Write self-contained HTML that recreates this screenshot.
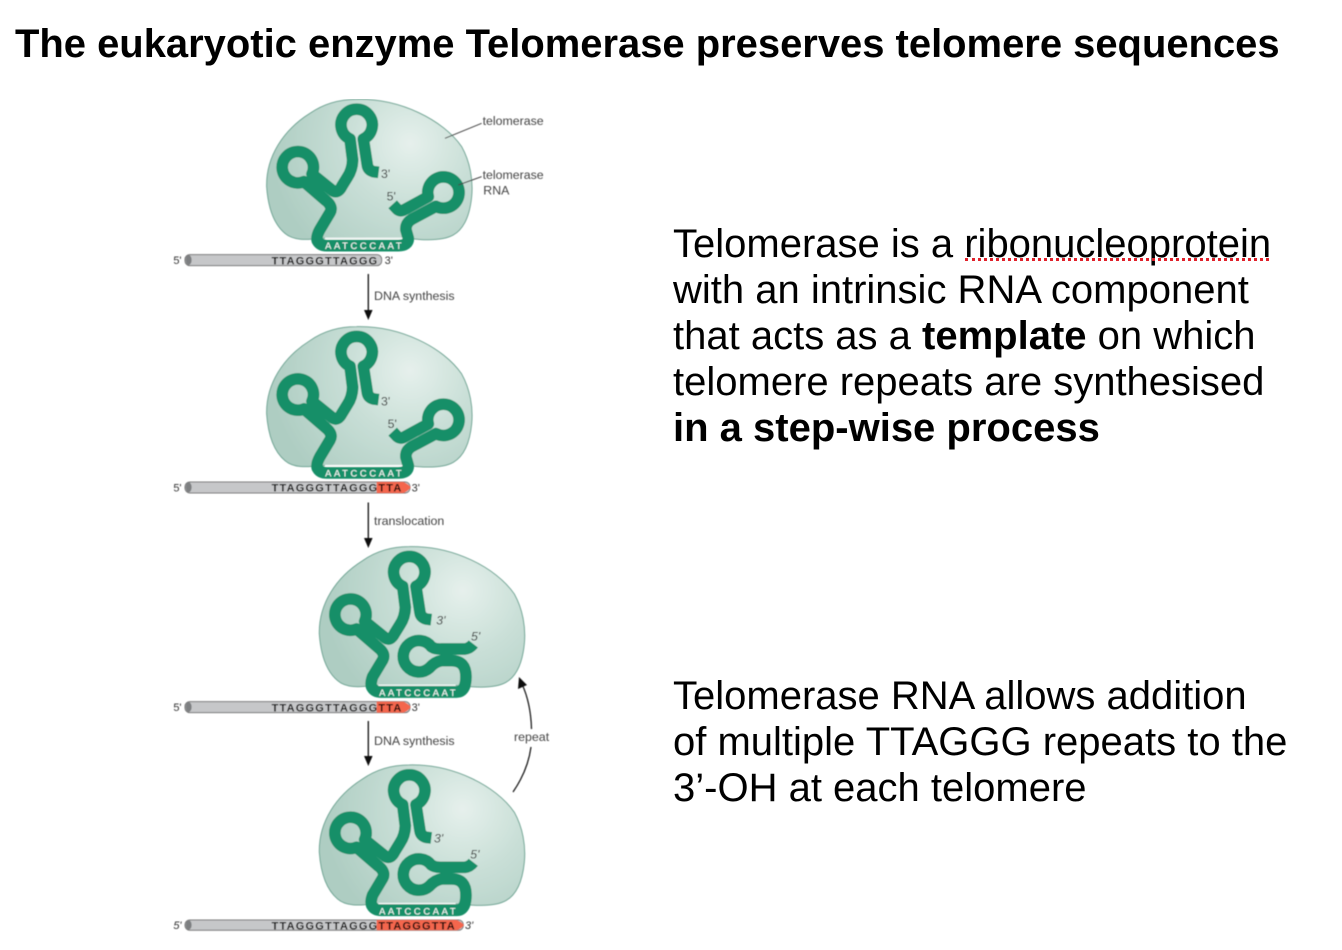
<!DOCTYPE html>
<html><head><meta charset="utf-8"><style>
html,body{margin:0;padding:0;background:#fff}
body{width:1342px;height:950px;position:relative;overflow:hidden;font-family:"Liberation Sans",Arial,sans-serif;color:#000}
.t{position:absolute;white-space:nowrap}
#title{left:15px;top:22px;font-size:39.95px;font-weight:bold;line-height:44px}
.b{font-size:40px;line-height:46px;left:673px}
.u{position:absolute;left:965px;top:258px;width:304px;height:0;border-top:3px dotted #e0202a}
svg{position:absolute;left:0;top:0}
</style></head><body>
<svg width="1342" height="950" viewBox="0 0 1342 950" font-family="Liberation Sans, Arial, sans-serif">
<defs>
<radialGradient id="g" gradientUnits="userSpaceOnUse" cx="750" cy="160" r="420">
<stop offset="0" stop-color="#e6f0ec"/><stop offset=".45" stop-color="#c9dfd7"/><stop offset="1" stop-color="#aecdc2"/></radialGradient>
<filter id="bl" x="0" y="0" width="100%" height="100%"><feGaussianBlur stdDeviation="0.45"/></filter>
<path id="blob" d="M590,28 C720,25 850,90 905,170 C930,215 940,270 935,320 C930,370 915,415 880,435 C850,452 800,452 745,445 L480,445 C440,450 400,452 375,430 C345,405 325,360 320,290 C318,200 370,120 450,70 C490,42 540,28 590,28Z" fill="url(#g)" stroke="#6fa594" stroke-width="3"/>
<path id="rna1" fill="none" stroke="#148f68" stroke-width="35" stroke-linejoin="round" d="M656,247 L640,245 Q624,240 622,225 L610,147 A47,47 0 1 0 570,147 L578,210 Q577,240 562,262 L546,288 Q534,312 518,302 L456,252 A47,47 0 1 0 432,275 L498,332 Q520,350 510,368 L480,418 Q468,440 472,452 Q480,467 500,467 L715,467 Q745,467 745,445 L738,420 Q736,400 755,388 L828,349 A47,47 0 1 0 805,320 L735,358 Q722,366 712,358 L698,343"/>
<path id="rna2" fill="none" stroke="#148f68" stroke-width="35" stroke-linejoin="round" d="M814,239 L798,237 Q782,232 780,217 L768,139 A47,47 0 1 0 728,139 L736,202 Q735,232 720,254 L704,280 Q692,304 676,294 L614,244 A47,47 0 1 0 590,267 L656,324 Q678,342 668,360 L638,410 Q630,432 636,442 Q644,456 664,456 L890,456 Q918,456 918,410 Q918,362 875,362 L845,362 Q825,365 808,384 A47,47 0 1 1 814,320 Q825,328 845,327 L915,327 Q930,325 940,312"/>
</defs>
<g filter="url(#bl)">

<!-- stage 1 -->
<g transform="translate(160,90) scale(.3333)">
<use href="#blob"/>
<use href="#rna1"/>
<rect x="495" y="443" width="232" height="3.5" fill="#fff"/>
<text x="614" y="477" font-size="28" fill="#fff" text-anchor="middle" letter-spacing="8">AATCCCAAT</text>
<rect x="75" y="494" width="590" height="33" rx="14" fill="#c6c7c9" stroke="#777" stroke-width="3"/>
<ellipse cx="86" cy="510" rx="9" ry="15" fill="#7d7f81"/>
<text x="335" y="523" font-size="33" font-weight="bold" fill="#000" letter-spacing="3.6">TTAGGGTTAGGG</text>
<text x="40" y="522" font-size="33" fill="#333">5'</text>
<text x="674" y="522" font-size="33" fill="#333">3'</text>
<text x="663" y="264" font-size="37" fill="#333">3'</text>
<text x="680" y="332" font-size="37" fill="#333">5'</text>
<path d="M855,145 L965,100 M895,285 L965,260" stroke="#444" stroke-width="3" fill="none"/>
<text x="968" y="105" font-size="37" fill="#444">telomerase</text>
<text x="968" y="267" font-size="37" fill="#444">telomerase</text>
<text x="970" y="314" font-size="37" fill="#444">RNA</text>
</g>

<!-- stage 2 -->
<g transform="translate(160,317.3) scale(.3333)">
<use href="#blob"/>
<use href="#rna1"/>
<rect x="495" y="443" width="232" height="3.5" fill="#fff"/>
<text x="614" y="477" font-size="28" fill="#fff" text-anchor="middle" letter-spacing="8">AATCCCAAT</text>
<rect x="75" y="494" width="675" height="33" rx="14" fill="#c6c7c9" stroke="#777" stroke-width="3"/>
<path d="M650,494 H730 Q745,500 752,510 Q745,522 730,527 H650Z" fill="#f4664e"/>
<ellipse cx="86" cy="510" rx="9" ry="15" fill="#7d7f81"/>
<text x="335" y="523" font-size="33" font-weight="bold" fill="#000" letter-spacing="3.6">TTAGGGTTAGGGTTA</text>
<text x="40" y="522" font-size="33" fill="#333">5'</text>
<text x="755" y="522" font-size="33" fill="#333">3'</text>
<text x="663" y="264" font-size="37" fill="#333">3'</text>
<text x="683" y="332" font-size="37" fill="#333">5'</text>
</g>

<!-- stage 3 -->
<g transform="translate(160,540) scale(.3333)">
<g transform="translate(158,-8)"><use href="#blob"/></g>
<use href="#rna2"/>
<rect x="655" y="434" width="232" height="3.5" fill="#fff"/>
<text x="776" y="468" font-size="28" fill="#fff" text-anchor="middle" letter-spacing="8">AATCCCAAT</text>
<rect x="75" y="485" width="675" height="33" rx="14" fill="#c6c7c9" stroke="#777" stroke-width="3"/>
<path d="M650,485 H730 Q745,491 752,501 Q745,513 730,518 H650Z" fill="#f4664e"/>
<ellipse cx="86" cy="501" rx="9" ry="15" fill="#7d7f81"/>
<text x="335" y="514" font-size="33" font-weight="bold" fill="#000" letter-spacing="3.6">TTAGGGTTAGGGTTA</text>
<text x="40" y="513" font-size="33" fill="#333">5'</text>
<text x="755" y="513" font-size="33" fill="#333">3'</text>
<text x="829" y="254" font-size="37" font-style="italic" fill="#333">3'</text>
<text x="933" y="302" font-size="37" font-style="italic" fill="#333">5'</text>
</g>

<!-- stage 4 -->
<g transform="translate(160,758.3) scale(.3333)">
<g transform="translate(158,-8)"><use href="#blob"/></g>
<use href="#rna2"/>
<rect x="655" y="434" width="232" height="3.5" fill="#fff"/>
<text x="776" y="468" font-size="28" fill="#fff" text-anchor="middle" letter-spacing="8">AATCCCAAT</text>
<rect x="75" y="485" width="835" height="31" rx="14" fill="#c6c7c9" stroke="#777" stroke-width="3"/>
<path d="M650,485 H890 Q905,491 912,500 Q905,511 890,516 H650Z" fill="#f4664e"/>
<ellipse cx="86" cy="500" rx="9" ry="14" fill="#7d7f81"/>
<text x="335" y="513" font-size="33" font-weight="bold" fill="#000" letter-spacing="3.6">TTAGGGTTAGGGTTAGGGTTA</text>
<text x="40" y="512" font-size="33" font-style="italic" fill="#333">5'</text>
<text x="915" y="512" font-size="33" font-style="italic" fill="#333">3'</text>
<text x="822" y="252" font-size="37" font-style="italic" fill="#333">3'</text>
<text x="931" y="300" font-size="37" font-style="italic" fill="#333">5'</text>
</g>

<!-- arrows and labels -->
<g stroke="#111" stroke-width="1.3" fill="none">
<path d="M368.3,274 V312 M368.3,502.5 V540 M368.3,721 V758"/>
<path d="M513,792 C524,776 529,762 531,747 M531.5,729 C531,710 527,695 522,684" stroke-width="1.2"/>
</g>
<g fill="#111">
<path d="M364,310 H372.6 L368.3,320Z M364,538 H372.6 L368.3,548Z M364,756 H372.6 L368.3,766Z"/>
<path d="M519,677 L527,685 L518,689Z"/>
</g>
<g font-size="12.4" fill="#444">
<text x="374" y="300">DNA synthesis</text>
<text x="374" y="525">translocation</text>
<text x="374" y="745">DNA synthesis</text>
<text x="514" y="741">repeat</text>
</g>
</g>
</svg>

<div class="t" id="title">The eukaryotic enzyme Telomerase preserves telomere sequences</div>
<div class="t b" style="top:221px">Telomerase is a ribonucleoprotein</div>
<div class="u"></div>
<div class="t b" style="top:267px">with an intrinsic RNA component</div>
<div class="t b" style="top:313px">that acts as a <b>template</b> on which</div>
<div class="t b" style="top:359px">telomere repeats are synthesised</div>
<div class="t b" style="top:405px"><b>in a step-wise process</b></div>
<div class="t b" style="top:673px">Telomerase RNA allows addition</div>
<div class="t b" style="top:719px">of multiple TTAGGG repeats to the</div>
<div class="t b" style="top:765px">3’-OH at each telomere</div>
</body></html>
